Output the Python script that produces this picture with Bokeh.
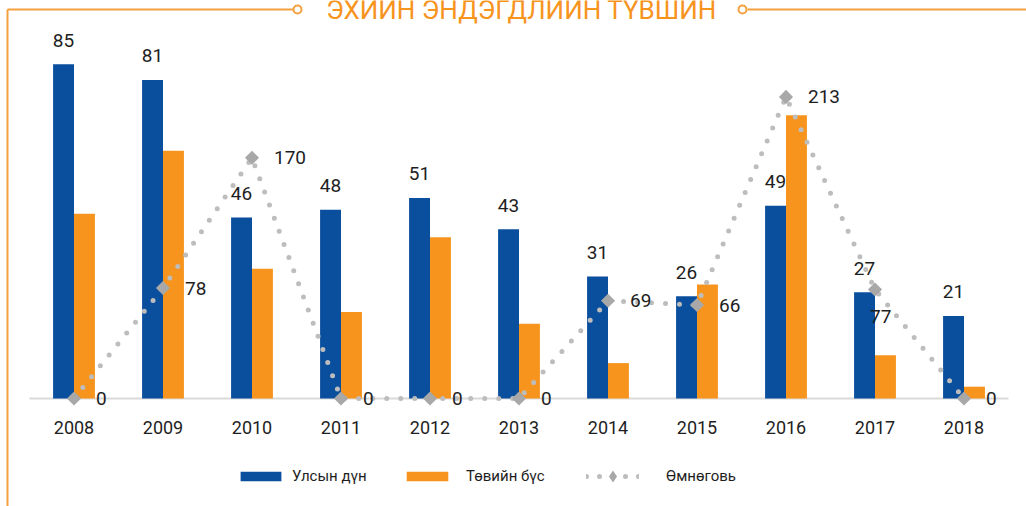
import numpy as np
from bokeh.plotting import figure
from bokeh.models import ColumnDataSource, Range1d, Legend, LegendItem
from bokeh.core.properties import value
from bokeh.embed import file_html
from bokeh.resources import INLINE

# ---- data ----
years = ["2008", "2009", "2010", "2011", "2012", "2013", "2014", "2015", "2016", "2017", "2018"]
national = [85, 81, 46, 48, 51, 43, 31, 26, 49, 27, 21]      # Улсын дүн
central = [47, 63, 33, 22, 41, 19, 9, 29, 72, 11, 3]          # Төвийн бүс
omnogovi = [0, 78, 170, 0, 0, 0, 69, 66, 213, 77, 0]          # Өмнөговь
series_names = ["Улсын дүн", "Төвийн бүс", "Өмнөговь"]
title_text = "ЭХИЙН ЭНДЭГДЛИЙН ТҮВШИН"

# ---- style ----
FONT = "Roboto"
BLUE = "#0A4E9E"
ORANGE = "#F7941D"
DECO = "#F6A040"
DOT = "#BDBDBD"
DIA = "#A8A8A8"
TXT = "#1E1E1E"

W, H = 1026, 506
CAT_PX = 89.0          # pixels per category
LEFT_PX = 29.0         # pixel column where the first category starts
BASE = 398.0           # pixel row of the zero line
PX_BAR = 354.0 / 90    # pixels per unit, bars
PX_LINE = 354.0 / 250  # pixels per unit, Өмнөговь line

n = len(years)
xs = [i + 0.5 for i in range(n)]

x0 = -LEFT_PX / CAT_PX
x_range = Range1d(x0, x0 + W / CAT_PX)
y_range = Range1d(-(H - BASE) / PX_BAR, BASE / PX_BAR)

def fx(px):
    return np.asarray(px, dtype=float) / CAT_PX + x0

def fy(py):
    return (BASE - np.asarray(py, dtype=float)) / PX_BAR

# per-label offsets for the Өмнөговь labels (style only)
lab_dx = [22] * n
lab_dy = [0] * n
lab_dx[years.index("2017")] = -5
lab_dy[years.index("2017")] = 27

BW = 0.235
src = ColumnDataSource(dict(
    x=xs, xb=[v - BW / 2 for v in xs], xo=[v + BW / 2 for v in xs],
    year=years, national=national, central=central, omn=omnogovi,
    zero=[0] * n,
    national_lbl=[str(v) for v in national],
    omn_lbl=[str(v) for v in omnogovi],
    dx=lab_dx, dy=lab_dy,
))

p = figure(x_range=x_range, y_range=y_range, width=W, height=H,
           output_backend="svg", toolbar_location=None,
           x_axis_location=None, y_axis_location=None,
           min_border=0, min_border_left=0, min_border_right=0,
           min_border_top=0, min_border_bottom=0,
           outline_line_color=None, background_fill_color="white",
           border_fill_color="white")
p.extra_y_ranges = {"omn": Range1d(-(H - BASE) / PX_LINE, BASE / PX_LINE)}
p.xgrid.visible = False
p.ygrid.visible = False

# baseline (category axis line)
p.segment(x0=0, y0=0, x1=n, y1=0, line_color="#D9D9D9", line_width=2)

r_nat = p.vbar(x="xb", top="national", width=BW, source=src,
               fill_color=BLUE, line_color=None)
r_cen = p.vbar(x="xo", top="central", width=BW, source=src,
               fill_color=ORANGE, line_color=None)

r_line = p.line("x", "omn", source=src, y_range_name="omn", line_color=DOT,
                line_width=5, line_dash="0 14", line_cap="round")
r_dia = p.scatter("x", "omn", source=src, y_range_name="omn", marker="square",
                  angle=np.pi / 4, size=10, fill_color=DIA, line_color=None)

# legend-only renderers (a single NaN point, so nothing is drawn in the plot)
leg_src = ColumnDataSource(dict(x=[float("nan")], y=[float("nan")]))
r_line_leg = p.line("x", "y", source=leg_src, line_color=DOT, line_width=5,
                    line_dash="0 13", line_cap="round")
r_dia_leg = p.scatter("x", "y", source=leg_src, marker="diamond", size=10,
                      fill_color=DIA, line_color=None)

# category labels
p.text(x="x", y="zero", text="year", source=src, text_align="center",
       text_baseline="middle", y_offset=29, text_font=value(FONT),
       text_font_size="18px", text_color=TXT)

# value labels
p.text(x="xb", y="national", text="national_lbl", source=src,
       text_align="center", text_baseline="middle", y_offset=-24,
       text_font=value(FONT), text_font_size="19px", text_color=TXT)
p.text(x="x", y="omn", text="omn_lbl", source=src, y_range_name="omn",
       x_offset="dx", y_offset="dy", text_align="left", text_baseline="middle",
       text_font=value(FONT), text_font_size="19px", text_color=TXT)

# ---- legends ----
def make_legend(label, rends, x, y, gw, gh, standoff):
    lg = Legend(items=[LegendItem(label=label, renderers=rends)], location=(x, y),
                orientation="horizontal", glyph_width=gw, glyph_height=gh,
                label_standoff=standoff, padding=0, margin=0, spacing=0,
                border_line_color=None, background_fill_alpha=0,
                label_text_font=FONT, label_text_font_size="15px",
                label_text_color=TXT)
    p.add_layout(lg, "center")

make_legend(series_names[0], [r_nat], 235, 21, 51, 12, 6)
make_legend(series_names[1], [r_cen], 401, 21, 52, 12, 13)
make_legend(series_names[2], [r_line_leg, r_dia_leg], 586, 15, 53, 30, 27)

# ---- title and decorative frame ----
p.text(x=[float(fx(521))], y=[float(fy(9))], text=[title_text],
       text_align="center", text_baseline="middle",
       text_font=value(FONT), text_font_size="26px", text_color=ORANGE)

p.segment(x0=fx([7, 7, 747]), y0=fy([9, 9, 9]),
          x1=fx([293, 7, 1026]), y1=fy([9, 506, 9]),
          line_color=DECO, line_width=2)
p.scatter(x=fx([297, 742]), y=fy([9, 9]), marker="circle", size=8,
          fill_color="white", line_color=DECO, line_width=2)

open("out.html", "w").write(file_html(p, INLINE))
